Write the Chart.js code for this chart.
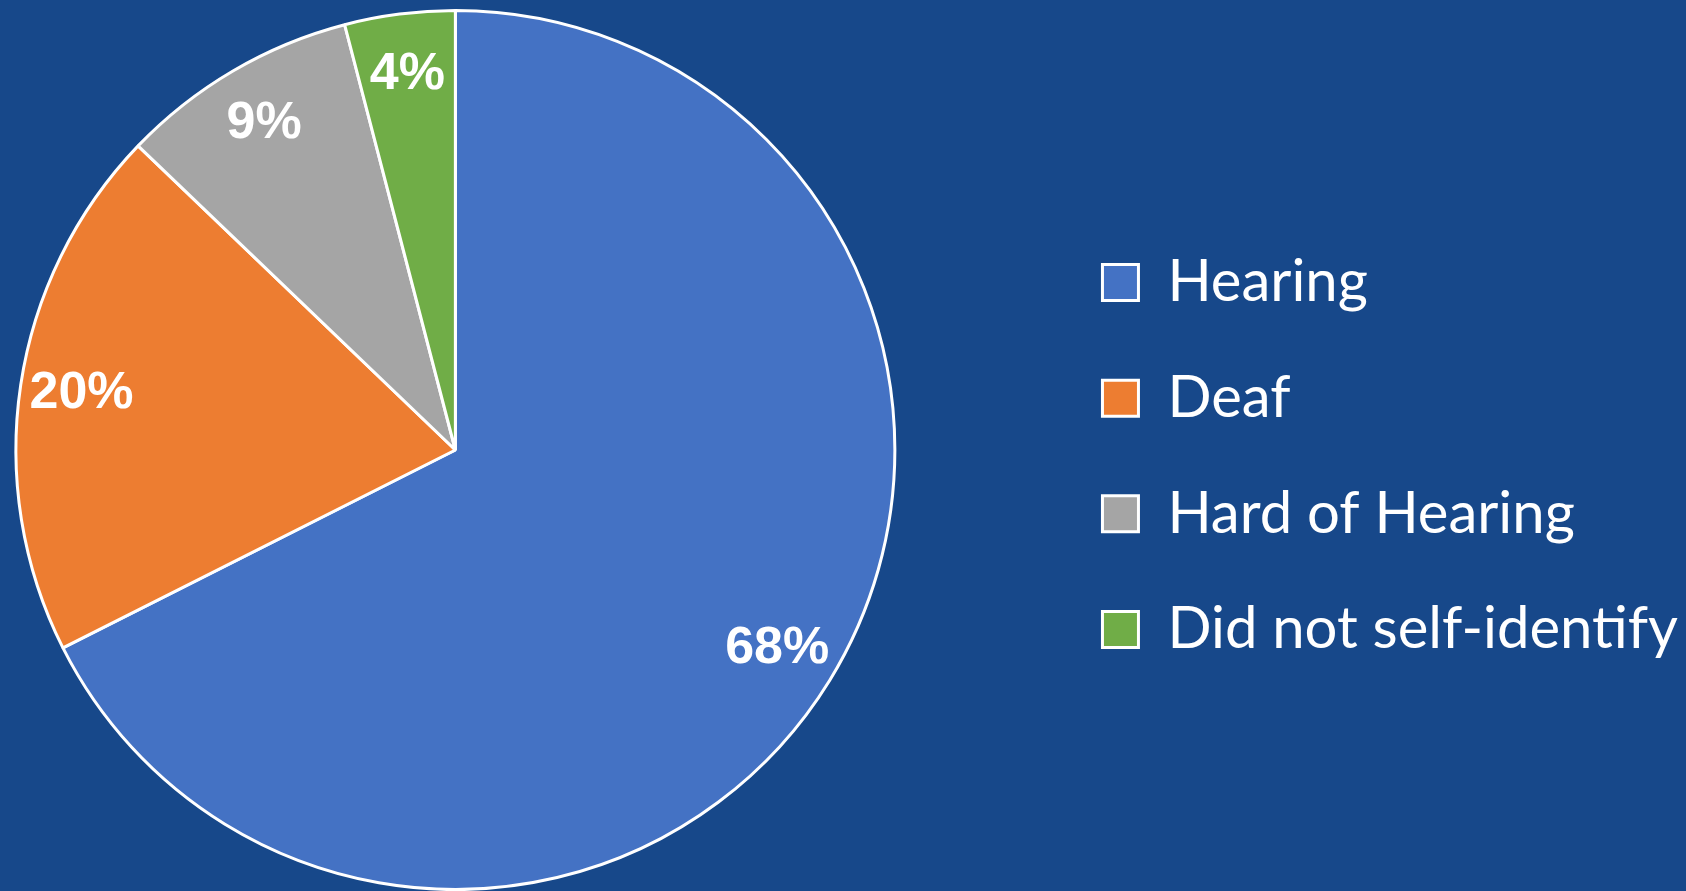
<!DOCTYPE html>
<html>
<head>
<meta charset="utf-8">
<script src="https://cdn.jsdelivr.net/npm/chart.js@4"></script>
<style>
  html, body { margin: 0; padding: 0; background: #17488a; overflow: hidden; }
  /* canvas is a bit wider than the window and shifted left so the pie sits at the left edge */
  #wrap { position: absolute; left: -134px; top: 0; width: 1822px; height: 891px; }
</style>
</head>
<body>
<div id="wrap"><canvas id="grafico" width="1822" height="891"></canvas></div>
<script>
// respondents by group (labels show share of total)
const categorias = ["Hearing", "Deaf", "Hard of Hearing", "Did not self-identify"];
const valores = [100, 29, 13, 6];
const cores = ['#4472c4', '#ed7d31', '#a5a5a5', '#70ad47'];

// percent labels drawn inside each slice, near the edge
const rotulosPorcentagem = {
    id: 'rotulosPorcentagem',
    afterDatasetsDraw(chart) {
        const ctx = chart.ctx;
        const meta = chart.getDatasetMeta(0);
        const total = valores.reduce((a, b) => a + b, 0);
        ctx.save();
        ctx.fillStyle = '#fff';
        ctx.font = 'bold 52px "Liberation Sans", Arial, sans-serif';
        ctx.textAlign = 'center';
        ctx.textBaseline = 'middle';
        meta.data.forEach((arco, i) => {
            const meio = (arco.startAngle + arco.endAngle) / 2;
            const r = arco.outerRadius * 0.86;
            const x = arco.x + Math.cos(meio) * r;
            const y = arco.y + Math.sin(meio) * r;
            ctx.fillText(Math.round(valores[i] / total * 100) + '%', x, y);
        });
        ctx.restore();
    }
};

const ctx = document.getElementById('grafico').getContext('2d');

let grafico = new Chart(ctx, {
    type: 'pie',
    data: {
        labels: categorias,
        datasets: [{
            data: valores,
            backgroundColor: cores,
            borderColor: '#ffffff',
            borderWidth: 3
        }]
    },
    options: {
        responsive: false,
        animation: false,
        layout: {
            padding: { left: 0, right: 0, top: 9, bottom: 0 }
        },
        plugins: {
            legend: {
                position: 'right',
                title: { display: true, text: '', padding: 0, font: { size: 12, lineHeight: 1 } },
                labels: {
                    color: '#ffffff',
                    boxWidth: 36,
                    boxHeight: 36,
                    padding: 57.7,
                    font: { family: 'Lato, "Open Sans", sans-serif', size: 58 }
                }
            },
            tooltip: { enabled: false }
        }
    },
    plugins: [rotulosPorcentagem]
});
</script>
</body>
</html>
